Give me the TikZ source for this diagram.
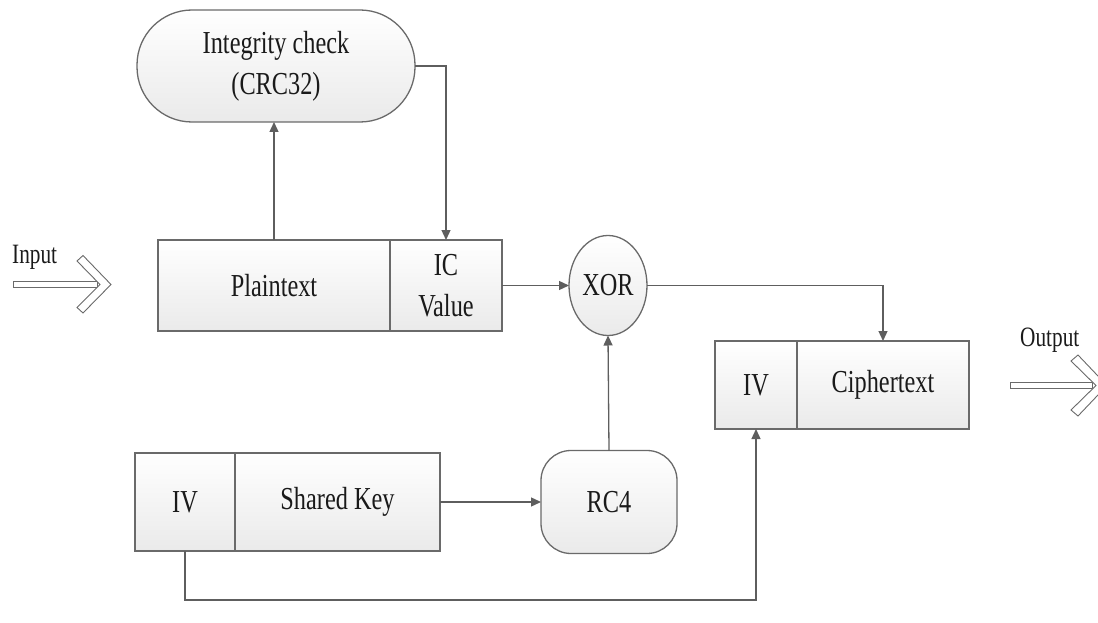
\documentclass[tikz,border=0pt]{standalone}
\usepackage{fontspec}
\setmainfont{Liberation Serif}
\usepackage{graphicx}
\usetikzlibrary{arrows.meta,shapes.geometric,calc}
% condensed serif lettering used throughout
\newcommand\cond[1]{\scalebox{0.76}[1]{#1}}
\definecolor{edgegray}{HTML}{6A6A6A}
\definecolor{linegray}{HTML}{5E5E5E}
\definecolor{shadebot}{HTML}{EAEAEA}
\definecolor{inkgray}{HTML}{1A1A1A}
\tikzset{
  blk/.style={draw=edgegray, line width=1.3pt, top color=white, bottom color=shadebot,
    inner sep=0pt, outer sep=0pt, text=inkgray, align=center,
    font=\fontsize{32}{41}\selectfont},
  cell/.style={blk, rectangle},
  pill/.style={blk, rectangle},
  oval/.style={blk, ellipse},
  lbl/.style={text=inkgray, inner sep=0pt, font=\fontsize{28}{32}\selectfont},
  conn/.style={draw=linegray, line width=1.3pt},
  arr/.style={conn, -{Triangle[length=10pt,width=9pt]}},
  bigarrow/.style={draw=edgegray, line width=0.9pt, fill=white}
}
\begin{document}
\begin{tikzpicture}[x=1pt,y=-1pt]
\useasboundingbox (0,0) rectangle (1098,623);

% CRC block
\node[pill, rounded corners=55pt, minimum width=278pt, minimum height=112pt] (crc) at (276,66)
  {\cond{Integrity check}\\\cond{(CRC32)}};

% plaintext with its check value
\node[cell, minimum width=232pt, minimum height=91pt] (plain) at (274,285.5) {\cond{Plaintext}};
\node[cell, minimum width=112pt, minimum height=91pt] (icv) at (446,285.5) {\cond{IC}\\\cond{Value}};

% XOR combiner
\node[oval, minimum width=78pt, minimum height=100pt] (xor) at (608,285.5) {\cond{XOR}};

% ciphertext frame
\node[cell, minimum width=82pt, minimum height=88pt] (ivout) at (756,385) {\cond{IV}};
\node[cell, minimum width=172pt, minimum height=88pt] (cipher) at (883,385) {\cond{Ciphertext}};

% key material
\node[cell, minimum width=100pt, minimum height=98pt] (ivin) at (185,502) {\cond{IV}};
\node[cell, minimum width=205pt, minimum height=98pt] (skey) at (337.5,502) {\cond{Shared Key}};

% keystream generator
\node[pill, rounded corners=30pt, minimum width=136pt, minimum height=103pt] (rc4) at (609,502) {\cond{RC4}};

% input / output labels
\node[lbl, anchor=base west] (inlbl) at (12,263) {\cond{Input}};
\node[lbl, anchor=base west] (outlbl) at (1020,346) {\cond{Output}};

% hollow input arrow
\draw[bigarrow] (13,281.5) rectangle (97,287.5);
\draw[bigarrow] (77,261) -- (83,255.5) -- (111,284.5) -- (83,313) -- (77,307.5) -- (100,284.5) -- cycle;

% hollow output arrow (runs off the right edge)
\draw[bigarrow] (1010,382.5) rectangle (1092,388.5);
\draw[bigarrow] (1071,361) -- (1078,355) -- (1107,385.5) -- (1078,416) -- (1071,410) -- (1096,385.5) -- cycle;

% connectors
\draw[arr] (plain.north) -- (plain.north |- crc.south);
\draw[arr] (crc.east) -| (icv.north);
\draw[arr] (icv.east) -- (xor.west);
\draw[arr] (xor.east) -| (cipher.north);
\draw[arr] (skey.east) -- (rc4.west);
\draw[arr] (rc4.north) -- (xor.south);
\coordinate (ivbend) at (ivout.south |- 0,600);
\draw[arr] (ivin.south) |- (ivbend) -- (ivout.south);
\end{tikzpicture}
\end{document}
